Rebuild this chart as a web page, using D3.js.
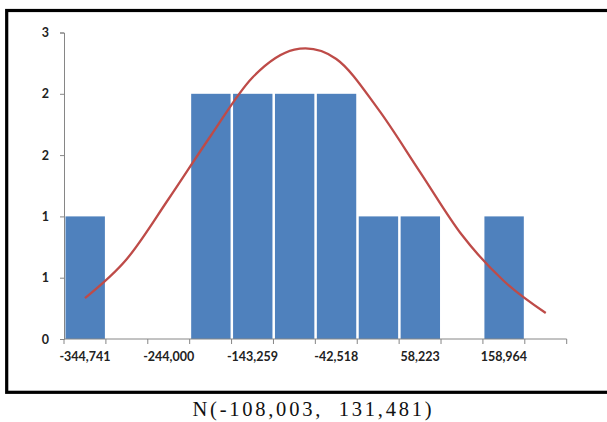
<!DOCTYPE html>
<html>
<head>
<meta charset="utf-8">
<script src="https://cdn.jsdelivr.net/npm/d3@7"></script>
<style>
  html, body { margin: 0; padding: 0; background: #fff; }
  svg { display: block; }
</style>
</head>
<body>
<svg id="chart" width="607" height="422"></svg>
<script>
// ---- data ----
const binStarts = [-344741, -294370.5, -244000, -193629.5, -143259, -92888.5, -42518, 7852.5, 58223, 108593.5, 158964, 209334.5];
const counts    = [1, 0, 0, 2, 2, 2, 2, 1, 1, 0, 1, 0];
const normalFit = [0.334, 0.653, 1.144, 1.656, 2.133, 2.36, 2.284, 1.875, 1.362, 0.848, 0.473, 0.212];
const xTickLabels = ["-344,741", "", "-244,000", "", "-143,259", "", "-42,518", "", "58,223", "", "158,964", ""];
const yTickValues = [0, 0.5, 1, 1.5, 2, 2.5];
const yTickLabels = ["0", "1", "1", "2", "2", "3"];
const caption = "N(-108,003,\u00a0 131,481)";

// ---- layout ----
const svg = d3.select("#chart");
const plot = { left: 64, right: 566.7, top: 32.5, bottom: 339 };

const x = d3.scaleBand().domain(binStarts).range([plot.left, plot.right]).padding(0);
const y = d3.scaleLinear().domain([0, 2.5]).range([plot.bottom, plot.top]);
const bw = x.bandwidth();

// frame
svg.append("rect")
  .attr("x", 6.7).attr("y", 10.5)
  .attr("width", 610).attr("height", 381.8)
  .attr("fill", "#fff").attr("stroke", "#000").attr("stroke-width", 3.2);

// bars
svg.append("g").selectAll("rect")
  .data(binStarts.map((b, i) => ({ b, c: counts[i] })).filter(d => d.c > 0))
  .join("rect")
  .attr("x", d => x(d.b) + 1.5)
  .attr("width", bw - 2.5)
  .attr("y", d => y(d.c))
  .attr("height", d => y(0) - y(d.c))
  .attr("fill", "#4F81BD");

// y axis
const yAxis = svg.append("g")
  .attr("transform", `translate(${plot.left},0)`)
  .call(d3.axisLeft(y).tickValues(yTickValues).tickFormat((d, i) => yTickLabels[i]).tickSize(4).tickPadding(11));
yAxis.select(".domain").attr("stroke", "#868686");
yAxis.selectAll(".tick line").attr("stroke", "#868686");
yAxis.selectAll("text").attr("font-family", "Lato, sans-serif").attr("font-size", 12.5)
  .attr("font-weight", "bold").attr("fill", "#222");

// x axis: tick marks at bin boundaries, labels at every other bin center
const xg = svg.append("g").attr("transform", `translate(0,${plot.bottom})`);
xg.append("line").attr("x1", plot.left).attr("x2", plot.right)
  .attr("stroke", "#868686");
const bounds = binStarts.map(b => x(b)).concat([x(binStarts[binStarts.length - 1]) + bw]);
xg.selectAll("line.tk").data(bounds).join("line").attr("class", "tk")
  .attr("x1", d => d).attr("x2", d => d).attr("y1", 0).attr("y2", 5)
  .attr("stroke", "#868686");
xg.selectAll("text").data(binStarts.map((b, i) => ({ b, t: xTickLabels[i] })).filter(d => d.t))
  .join("text")
  .attr("x", d => x(d.b) + bw / 2)
  .attr("y", 22)
  .attr("text-anchor", "middle")
  .attr("font-family", "Lato, sans-serif").attr("font-size", 12.5).attr("font-weight", "bold")
  .attr("fill", "#222")
  .text(d => d.t);

// normal curve
const line = d3.line()
  .x((d, i) => x(binStarts[i]) + bw / 2)
  .y(d => y(d))
  .curve(d3.curveCardinal.tension(0));
svg.append("path").datum(normalFit)
  .attr("d", line)
  .attr("fill", "none")
  .attr("stroke", "#BE4B48")
  .attr("stroke-width", 2.3);

// caption
svg.append("text")
  .attr("x", 312).attr("y", 416)
  .attr("text-anchor", "middle")
  .attr("font-family", "'Liberation Serif', serif")
  .attr("font-size", 20.5)
  .attr("textLength", 239).attr("lengthAdjust", "spacing")
  .attr("fill", "#111")
  .text(caption);
</script>
</body>
</html>
